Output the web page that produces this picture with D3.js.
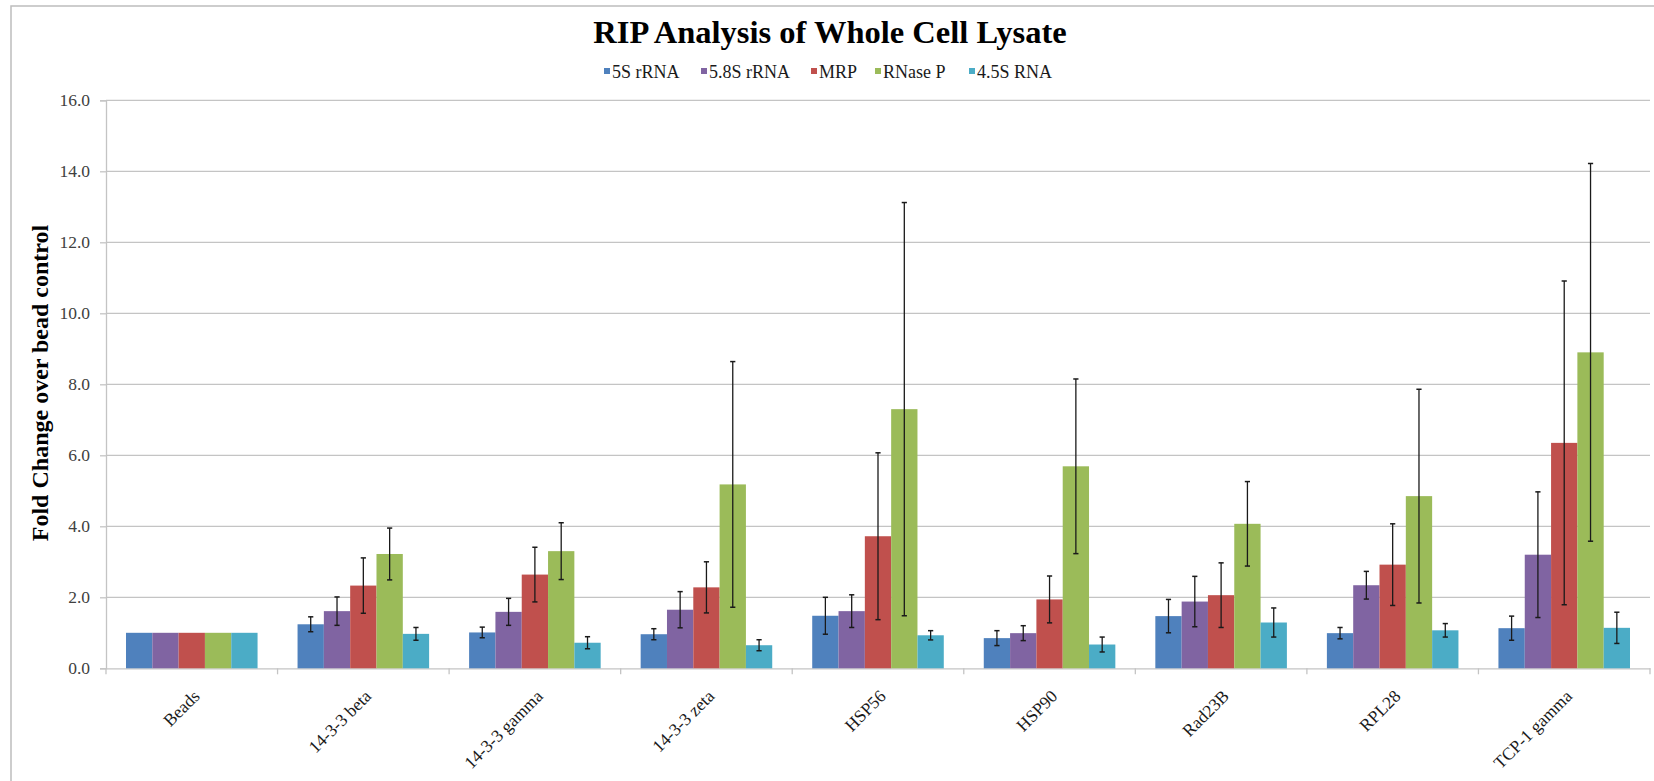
<!DOCTYPE html>
<html>
<head>
<meta charset="utf-8">
<script src="https://cdn.jsdelivr.net/npm/d3@7/dist/d3.min.js"></script>
<style>
html,body{margin:0;padding:0;background:#fff;}
svg{display:block;}
svg text{font-family:"Liberation Serif","Times New Roman",serif;}
</style>
</head>
<body>
<svg id="chart" width="1654" height="781"></svg>
<script>
const categories = ["Beads","14-3-3 beta","14-3-3 gamma","14-3-3 zeta","HSP56","HSP90","Rad23B","RPL28","TCP-1 gamma"];
const seriesNames = ["5S rRNA","5.8S rRNA","MRP","RNase P","4.5S RNA"];
const seriesColors = ["#4F81BD","#8064A2","#C0504D","#9BBB59","#4BACC6"];

const val5S    = [1.00, 1.24, 1.01, 0.96, 1.48, 0.85, 1.47, 0.99, 1.13];
const err5S    = [0,    0.21, 0.15, 0.155,0.52, 0.21, 0.47, 0.16, 0.34];
const val58S   = [1.00, 1.61, 1.59, 1.65, 1.61, 0.99, 1.88, 2.34, 3.20];
const err58S   = [0,    0.40, 0.38, 0.51, 0.46, 0.21, 0.71, 0.39, 1.77];
const valMRP   = [1.00, 2.33, 2.64, 2.28, 3.72, 1.94, 2.06, 2.92, 6.35];
const errMRP   = [0,    0.78, 0.77, 0.72, 2.35, 0.66, 0.91, 1.15, 4.56];
const valRNaseP= [1.00, 3.22, 3.30, 5.18, 7.30, 5.69, 4.07, 4.85, 8.90];
const errRNaseP= [0,    0.73, 0.80, 3.46, 5.82, 2.46, 1.19, 3.01, 5.32];
const val45S   = [1.00, 0.97, 0.72, 0.65, 0.93, 0.67, 1.29, 1.07, 1.14];
const err45S   = [0,    0.18, 0.17, 0.155,0.13, 0.21, 0.41, 0.19, 0.44];

const yTicks = [0,2,4,6,8,10,12,14,16];

const values = [val5S, val58S, valMRP, valRNaseP, val45S];
const errors = [err5S, err58S, errMRP, errRNaseP, err45S];

const svg = d3.select("#chart");
const serif = "Liberation Serif, Times New Roman, serif";

// outer chart border
svg.append("rect").attr("x",11).attr("y",6).attr("width",1700).attr("height",800)
  .attr("fill","none").attr("stroke","#bdbdbd").attr("stroke-width",1.5);

const plot = {left:106, right:1650, top:100.3, bottom:668.3};

const x0 = d3.scaleBand().domain(categories).range([plot.left, plot.right]).paddingInner(0).paddingOuter(0);
const x1 = d3.scaleBand().domain(seriesNames).range([0, x0.bandwidth()]).paddingInner(0).paddingOuter(0.76);
const y = d3.scaleLinear().domain([0,16]).range([plot.bottom, plot.top]);

// gridlines
svg.append("g").selectAll("line").data(yTicks.filter(d=>d>0)).join("line")
  .attr("x1",plot.left).attr("x2",plot.right)
  .attr("y1",d=>y(d)).attr("y2",d=>y(d))
  .attr("stroke","#c4c4c4").attr("stroke-width",1.3);

// y axis
const yAxis = d3.axisLeft(y).tickValues(yTicks).tickFormat(d3.format(".1f")).tickSize(6).tickPadding(10);
const gy = svg.append("g").attr("transform",`translate(${plot.left},0)`).call(yAxis)
  .attr("font-family",serif).attr("font-size",17.5);
gy.select(".domain").attr("stroke","#c4c4c4").attr("stroke-width",1.3);
gy.selectAll(".tick line").attr("stroke","#c4c4c4").attr("stroke-width",1.3);
gy.selectAll(".tick text").style("font-size","17.5px").attr("fill","#404040");

// x axis
const xAxis = d3.axisBottom(x0).tickSize(0).tickFormat("");
const gx = svg.append("g").attr("transform",`translate(0,${plot.bottom})`).call(xAxis);
gx.select(".domain").attr("stroke","#c4c4c4").attr("stroke-width",1.3);
// category boundary ticks
const boundaries = categories.map(c=>x0(c)).concat([plot.right]);
svg.append("g").selectAll("line").data(boundaries).join("line")
  .attr("x1",d=>d).attr("x2",d=>d).attr("y1",plot.bottom).attr("y2",plot.bottom+6)
  .attr("stroke","#c4c4c4").attr("stroke-width",1.3);

// x labels
svg.append("g").selectAll("text").data(categories).join("text")
  .attr("transform",d=>`translate(${x0(d)+x0.bandwidth()/2+9},${plot.bottom+29}) rotate(-45)`)
  .attr("text-anchor","end")
  .style("font-size","17.5px").attr("fill","#1a1a1a")
  .text(d=>d);

// bars
const groups = svg.append("g").selectAll("g").data(categories).join("g")
  .attr("transform",d=>`translate(${x0(d)},0)`);

groups.selectAll("rect").data((c,i)=>seriesNames.map((s,k)=>({s,k,v:values[k][i],e:errors[k][i]}))).join("rect")
  .attr("x",d=>x1(d.s)).attr("width",x1.bandwidth())
  .attr("y",d=>y(d.v)).attr("height",d=>y(0)-y(d.v))
  .attr("fill",d=>seriesColors[d.k]);

// error bars
const eb = groups.selectAll("g.err").data((c,i)=>seriesNames.map((s,k)=>({s,k,v:values[k][i],e:errors[k][i]})).filter(d=>d.e>0))
  .join("g").attr("class","err");
const cap = 2.6;
eb.append("line")
  .attr("x1",d=>x1(d.s)+x1.bandwidth()/2).attr("x2",d=>x1(d.s)+x1.bandwidth()/2)
  .attr("y1",d=>y(d.v+d.e)).attr("y2",d=>y(d.v-d.e))
  .attr("stroke","#1a1a1a").attr("stroke-width",1.3);
eb.append("line")
  .attr("x1",d=>x1(d.s)+x1.bandwidth()/2-cap).attr("x2",d=>x1(d.s)+x1.bandwidth()/2+cap)
  .attr("y1",d=>y(d.v+d.e)).attr("y2",d=>y(d.v+d.e))
  .attr("stroke","#1a1a1a").attr("stroke-width",1.5);
eb.append("line")
  .attr("x1",d=>x1(d.s)+x1.bandwidth()/2-cap).attr("x2",d=>x1(d.s)+x1.bandwidth()/2+cap)
  .attr("y1",d=>y(d.v-d.e)).attr("y2",d=>y(d.v-d.e))
  .attr("stroke","#1a1a1a").attr("stroke-width",1.5);

// title
svg.append("text").attr("x",830).attr("y",43).attr("text-anchor","middle")
  .attr("font-weight","bold").style("font-size","32.5px").attr("fill","#000")
  .text("RIP Analysis of Whole Cell Lysate");

// legend
const legendX = [604, 701, 811, 875, 969];
const lg = svg.append("g").selectAll("g").data(seriesNames).join("g")
  .attr("transform",(d,i)=>`translate(${legendX[i]},0)`);
lg.append("rect").attr("x",0).attr("y",68).attr("width",6).attr("height",6)
  .attr("fill",(d,i)=>seriesColors[i]);
lg.append("text").attr("x",8).attr("y",78)
  .style("font-size","18px").attr("fill","#1a1a1a")
  .text(d=>d);

// y axis title
svg.append("text").attr("transform","translate(48,383) rotate(-90)").attr("text-anchor","middle")
  .attr("font-weight","bold").style("font-size","24px").attr("fill","#000")
  .text("Fold Change over bead control");
</script>
</body>
</html>
